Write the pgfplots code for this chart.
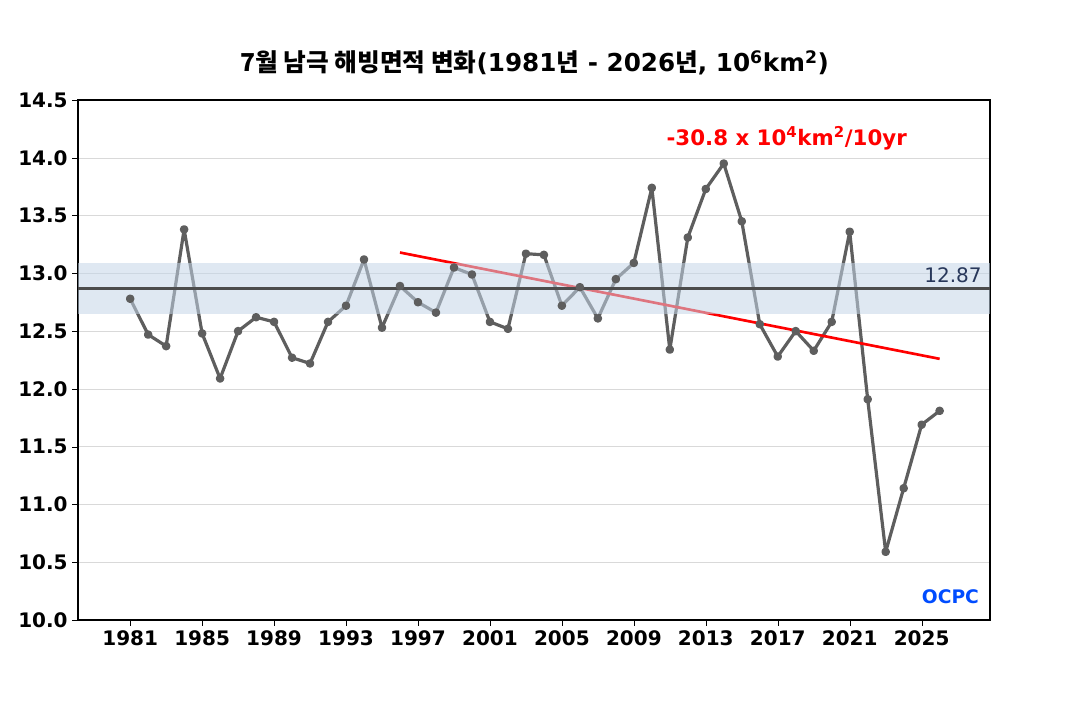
\documentclass[border=0pt]{standalone}
\usepackage{pgfplots}
\pgfplotsset{compat=1.18}
\usepackage{fontspec}
\setmainfont{DejaVu Sans}
\newfontfamily\kr{Noto Sans CJK KR}
\definecolor{band}{RGB}{196,214,232}
\definecolor{lbl}{RGB}{40,55,90}
\begin{document}
\begin{tikzpicture}
\useasboundingbox (0pt,0pt) rectangle (802.5pt,525pt);
\begin{axis}[at={(58.5pt,60pt)},anchor=south west,
 width=684pt,height=390pt,scale only axis,
 xmin=1978.1,xmax=2028.8,ymin=10,ymax=14.5,
 xtick={1981,1985,...,2025},ytick={10,10.5,...,14.5},
 xticklabel style={/pgf/number format/1000 sep={},font=\fontsize{15}{17}\selectfont\bfseries},
 yticklabel style={/pgf/number format/.cd,fixed,fixed zerofill,precision=1,/tikz/.cd,font=\fontsize{15}{17}\selectfont\bfseries},
 /pgf/number format/assume math mode=true,
 ymajorgrids,grid style={gray!30},axis line style={black,thick},
 tick style={black},tick pos=left,tick align=outside,
 clip=false]
\addplot[line width=2.4pt,line join=round,color=black!63,mark=*,mark size=2pt] coordinates {
(1981,12.78)(1982,12.47)(1983,12.37)(1984,13.38)(1985,12.48)(1986,12.09)(1987,12.50)(1988,12.62)(1989,12.58)(1990,12.27)(1991,12.22)(1992,12.58)(1993,12.72)(1994,13.12)(1995,12.53)(1996,12.89)(1997,12.75)(1998,12.66)(1999,13.05)(2000,12.99)(2001,12.58)(2002,12.52)(2003,13.17)(2004,13.16)(2005,12.72)(2006,12.88)(2007,12.61)(2008,12.95)(2009,13.09)(2010,13.74)(2011,12.34)(2012,13.31)(2013,13.73)(2014,13.95)(2015,13.45)(2016,12.56)(2017,12.28)(2018,12.50)(2019,12.33)(2020,12.58)(2021,13.36)(2022,11.91)(2023,10.59)(2024,11.14)(2025,11.69)(2026,11.81)};
\addplot[red,line width=2pt] coordinates {(1996,13.18)(2026,12.26)};
\addplot[draw=none,fill=band,fill opacity=0.55] coordinates {(1978.1,12.65)(2028.8,12.65)(2028.8,13.09)(1978.1,13.09)} -- cycle;
\addplot[black!70,line width=2pt] coordinates {(1978.1,12.87)(2028.8,12.87)};
\node[anchor=south east,text=lbl,font=\fontsize{15}{17}\selectfont] at (axis cs:2028.6,12.88) {12.87};
\node[red,font=\fontsize{16}{19}\selectfont\bfseries] at (axis cs:2017.5,14.17) {-30.8 x 10$^{\mathbf 4}$km$^{\mathbf 2}$/10yr};
\node[font=\fontsize{14}{15}\selectfont\bfseries,text=blue!70!cyan] at (axis cs:2026.6,10.2) {OCPC};
\end{axis}
\node[font=\fontsize{18.5}{22}\selectfont\bfseries] at (401pt,478pt) {{\kr 7월 남극 해빙면적 변화}(1981{\kr 년} - 2026{\kr 년}, 10$^{\mathbf 6}$km$^{\mathbf 2}$)};
\end{tikzpicture}
\end{document}
